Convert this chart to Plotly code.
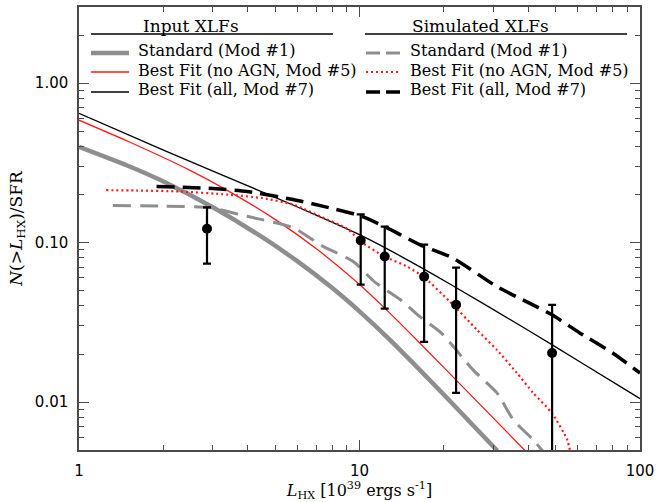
import plotly.graph_objects as go

# ---------------- data ----------------
# Input XLFs
std_in_x = [1, 1.5, 2, 3, 4.5, 6, 8, 10, 13, 20, 31]
std_in_y = [0.398, 0.302, 0.2415, 0.1663, 0.108, 0.0764, 0.0518, 0.037, 0.024, 0.0111, 0.00495]

nagn_in_x = [1, 1.5, 2.5, 3.5, 5, 7, 10, 12.3, 16, 25, 39]
nagn_in_y = [0.585, 0.43, 0.2825, 0.205, 0.1397, 0.0917, 0.0546, 0.0388, 0.0245, 0.011, 0.00494]

all_in_x = [1, 2, 5, 7, 10, 14, 21, 40.6, 61, 100]
all_in_y = [0.647, 0.38, 0.192, 0.1486, 0.112, 0.0822, 0.055, 0.0277, 0.0179, 0.0105]

# Simulated XLFs
std_sim_x = [1.32, 2.0, 2.91, 3.97, 5.8, 7.3, 9.5, 11.4, 14.0, 16.4, 19.6, 25.4, 30.9, 35.4, 41.6, 45.5]
std_sim_y = [0.171, 0.169, 0.166, 0.146, 0.124, 0.096, 0.076, 0.056, 0.0438, 0.0343, 0.027, 0.0159, 0.0114, 0.0077, 0.0058, 0.0048]

nagn_sim_x = [1.25, 1.6, 2.29, 3.37, 4.5, 5.8, 7.3, 9.1, 10.1, 12.3, 14.8, 16.9, 21.0, 26.2, 30.9, 36.4, 41.6, 48.6, 55, 56.5]
nagn_sim_y = [0.213, 0.212, 0.209, 0.200, 0.19, 0.173, 0.145, 0.121, 0.1015, 0.0816, 0.0706, 0.061, 0.0426, 0.0284, 0.0212, 0.0152, 0.0114, 0.0085, 0.0058, 0.0048]

all_sim_x = [1.89, 3.0, 3.97, 5.8, 7.5, 10.2, 12.5, 16.4, 21.5, 30.9, 40, 48.6, 60.8, 79.9, 100]
all_sim_y = [0.225, 0.218, 0.209, 0.186, 0.168, 0.146, 0.124, 0.097, 0.08, 0.0529, 0.042, 0.0352, 0.0272, 0.0203, 0.0152]

# Observed points with error bars
obs_x = [2.86, 10.1, 12.3, 17.0, 22.1, 48.6]
obs_y = [0.122, 0.103, 0.0817, 0.0611, 0.0407, 0.0203]
obs_hi = [0.166, 0.150, 0.126, 0.0971, 0.0697, 0.0407]
obs_lo = [0.0738, 0.0545, 0.0385, 0.0238, 0.0114, 0.001]

x_ticks = [1, 10, 100]
x_ticktext = ["1", "10", "100"]
y_ticks = [0.01, 0.1, 1]
y_ticktext = ["0.01", "0.10", "1.00"]

GRAY = "#8e8e8e"
RED = "#ff1a1a"

fig = go.Figure()

def line(x, y, color, width, dash="solid"):
    fig.add_trace(go.Scatter(x=x, y=y, mode="lines",
                             line=dict(color=color, width=width, dash=dash, shape="spline", smoothing=0.6),
                             showlegend=False, hoverinfo="skip"))

line(std_in_x, std_in_y, GRAY, 4.5)
line(nagn_in_x, nagn_in_y, RED, 1.3)
line(all_in_x, all_in_y, "black", 1.3)
line(std_sim_x, std_sim_y, GRAY, 3, "18px,9px")
line(nagn_sim_x, nagn_sim_y, RED, 2.2, "2px,3px")
line(all_sim_x, all_sim_y, "black", 3.5, "18px,8px")

fig.add_trace(go.Scatter(
    x=obs_x, y=obs_y, mode="markers",
    marker=dict(color="black", size=10),
    error_y=dict(type="data", symmetric=False,
                 array=[h - v for h, v in zip(obs_hi, obs_y)],
                 arrayminus=[v - l for v, l in zip(obs_y, obs_lo)],
                 color="black", thickness=2.2, width=4),
    showlegend=False, hoverinfo="skip"))

# ---------------- legend (drawn manually, two columns) ----------------
L, R, T, B = 79, 640, 7, 450
W, H = R - L, B - T
def px(xp):
    return (xp - L) / W
def py(yp):
    return (B - yp) / H

def hline(x0, x1, y, color, width, dash="solid"):
    fig.add_shape(type="line", xref="paper", yref="paper",
                  x0=px(x0), x1=px(x1), y0=py(y), y1=py(y),
                  line=dict(color=color, width=width, dash=dash))

def text(x, y, s, anchor="left", size=16):
    fig.add_annotation(xref="paper", yref="paper", x=px(x), y=py(y), text=s,
                       showarrow=False, xanchor=anchor, yanchor="middle",
                       font=dict(family="DejaVu Serif", size=size, color="black"))

text(191, 26, "Input XLFs", "center", 17)
text(480, 26, "Simulated XLFs", "center", 17)
hline(91, 333, 34, "black", 1.5)
hline(365, 627, 34, "black", 1.5)

rows = [50, 70, 89]
labels = ["Standard (Mod #1)", "Best Fit (no AGN, Mod #5)", "Best Fit (all, Mod #7)"]
for yy, lab in zip(rows, labels):
    text(136, yy, lab)
    text(408, yy, lab)

hline(91, 129, 53, GRAY, 4.5)
hline(91, 129, 72, RED, 1.3)
hline(91, 129, 92, "black", 1.3)
hline(366, 400, 53, GRAY, 3, "14px,6px")
hline(366, 400, 72, RED, 2.2, "2px,3px")
hline(366, 400, 92, "black", 3.5, "14px,6px")

# ---------------- axes ----------------
x_minor = [m * d for d in (1, 10) for m in range(2, 10)]
y_minor = [m * d for d in (0.001, 0.01, 0.1) for m in range(2, 10) if m * d >= 0.005] + [2, 3]

AX = "#4a4a4a"
fig.update_xaxes(type="log", range=[0, 2], showgrid=False, zeroline=False, automargin=False,
                 showline=True, linecolor=AX, linewidth=1.5, mirror="ticks",
                 ticks="inside", ticklen=10, tickwidth=1.2, tickcolor=AX,
                 tickvals=x_ticks, ticktext=x_ticktext, ticklabelstandoff=6,
                 tickfont=dict(family="DejaVu Sans", size=15, color="black"),
                 minor=dict(tickvals=x_minor, ticks="inside", ticklen=5, tickwidth=1.2, tickcolor=AX, showgrid=False),
                 title=dict(text="<i>L</i><sub>HX</sub> [10<sup>39</sup> ergs s<sup>-1</sup>]",
                            font=dict(family="DejaVu Serif", size=16, color="black"), standoff=2))
fig.update_yaxes(type="log", range=[-2.30103, 0.47712], showgrid=False, zeroline=False, automargin=False,
                 showline=True, linecolor=AX, linewidth=1.5, mirror="ticks",
                 ticks="inside", ticklen=10, tickwidth=1.2, tickcolor=AX,
                 tickvals=y_ticks, ticktext=y_ticktext, ticklabelstandoff=6,
                 tickfont=dict(family="DejaVu Sans", size=15, color="black"),
                 minor=dict(tickvals=y_minor, ticks="inside", ticklen=5, tickwidth=1.2, tickcolor=AX, showgrid=False),
                 title=dict(text="<i>N</i>(&gt;<i>L</i><sub>HX</sub>)/SFR",
                            font=dict(family="DejaVu Serif", size=17, color="black"), standoff=8))

fig.update_layout(width=666, height=502, plot_bgcolor="white", paper_bgcolor="white",
                  margin=dict(l=L, r=666 - R, t=T, b=502 - B), showlegend=False)

fig.write_html("out.html", config={"displayModeBar": False},
               post_script="document.body.style.margin='0px';document.body.style.overflow='hidden';")
